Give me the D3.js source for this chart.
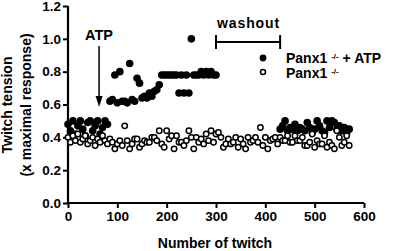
<!DOCTYPE html>
<html><head><meta charset="utf-8">
<script src="https://cdn.jsdelivr.net/npm/d3@7"></script>
<style>body{margin:0;background:#fff}svg{display:block}text{font-family:"Liberation Sans",Arial,sans-serif;font-weight:bold}</style>
</head><body><svg id="c" width="397" height="251"></svg>
<script>
const xTicks=[0,100,200,300,400,500,600];
const yTicks=[0,0.2,0.4,0.6,0.8,1.0,1.2];
// Panx1-/- + ATP (filled): twitch number, value
const atpTwitch=[0,5,10,15,20,25,30,35,40,45,50,55,60,65,70,75,80,
85,90,95,100,105,110,115,120,125,130,135,140,145,150,155,160,165,170,175,180,185,190,195,200,205,210,215,220,225,230,235,240,245,250,255,260,265,270,275,280,285,290,295,300,
430,435,440,445,450,455,460,465,470,475,480,485,490,495,500,505,510,515,520,525,530,535,540,545,550,555,560,565,570];
const atpValue=[0.48,0.44,0.50,0.42,0.47,0.50,0.45,0.41,0.49,0.50,0.44,0.47,0.50,0.42,0.46,0.50,0.48,
0.62,0.63,0.78,0.61,0.80,0.62,0.62,0.61,0.85,0.63,0.62,0.76,0.73,0.64,0.65,0.64,0.67,0.65,0.68,0.69,0.72,0.78,0.78,0.78,0.78,0.78,0.78,0.78,0.67,0.78,0.67,0.78,0.67,1.00,0.78,0.78,0.78,0.80,0.78,0.80,0.78,0.80,0.78,0.78,
0.45,0.47,0.50,0.44,0.46,0.45,0.48,0.44,0.46,0.45,0.44,0.49,0.46,0.43,0.45,0.50,0.47,0.44,0.43,0.50,0.46,0.50,0.49,0.45,0.47,0.44,0.46,0.43,0.45];
// Panx1-/- (open)
const ctrlValue=[0.40,0.37,0.41,0.38,0.42,0.37,0.39,0.41,0.36,0.38,0.40,0.35,0.39,0.37,0.41,0.38,0.36,0.39,0.37,0.33,
0.36,0.38,0.35,0.47,0.38,0.33,0.36,0.39,0.39,0.34,0.36,0.38,0.37,0.37,0.40,0.40,0.38,0.44,0.36,0.34,
0.44,0.39,0.41,0.33,0.41,0.37,0.37,0.35,0.38,0.44,0.40,0.33,0.40,0.37,0.39,0.36,0.42,0.38,0.44,0.37,
0.42,0.43,0.40,0.34,0.36,0.39,0.36,0.37,0.40,0.34,0.39,0.36,0.33,0.40,0.37,0.38,0.40,0.37,0.46,0.35,
0.40,0.33,0.38,0.39,0.40,0.36,0.40,0.38,0.38,0.41,0.37,0.37,0.41,0.38,0.38,0.40,0.35,0.35,0.37,0.42,
0.34,0.38,0.36,0.36,0.41,0.34,0.37,0.35,0.33,0.44,0.40,0.35,0.37,0.41,0.35];
const ctrlTwitch=ctrlValue.map((d,i)=>i*5);
const atpMark=63, washStart=300, washEnd=430;

const svg=d3.select("#c");
const x=d3.scaleLinear().domain([0,600]).range([68,364]);
const y=d3.scaleLinear().domain([0,1.2]).range([203,6]);

const ax=svg.append("g").attr("transform","translate(0,203)")
 .call(d3.axisBottom(x).tickValues(xTicks).tickSize(5).tickPadding(3).tickFormat(d3.format("d")));
const ay=svg.append("g").attr("transform","translate(68,0)")
 .call(d3.axisLeft(y).tickValues(yTicks).tickSize(5).tickPadding(2).tickFormat(d3.format(".1f")));
[ax,ay].forEach(g=>{
 g.attr("font-family",null).attr("font-size",null);
 g.select(".domain").attr("stroke","#000").attr("stroke-width",2.2);
 g.selectAll(".tick line").attr("stroke","#000").attr("stroke-width",2);
 g.selectAll(".tick text").style("font-size","13.5px").style("font-weight","bold")
  .style("font-family","'Liberation Sans', Arial, sans-serif").attr("fill","#000");
});
ax.select(".domain").attr("d","M68,0H364");
ay.select(".domain").attr("d","M0,6V203");

// filled
svg.append("g").selectAll("circle").data(atpTwitch).join("circle")
 .attr("cx",d=>x(d)).attr("cy",(d,i)=>y(atpValue[i])).attr("r",3.8).attr("fill","#000");
// open
svg.append("g").selectAll("circle").data(ctrlTwitch).join("circle")
 .attr("cx",d=>x(d)).attr("cy",(d,i)=>y(ctrlValue[i])).attr("r",2.7)
 .attr("fill","#fff").attr("stroke","#000").attr("stroke-width",1.5);

// ATP arrow
const ax0=x(atpMark);
svg.append("text").attr("x",ax0).attr("y",40).attr("text-anchor","middle").style("font-size","14.5px").text("ATP");
svg.append("line").attr("x1",ax0).attr("x2",ax0).attr("y1",46).attr("y2",98).attr("stroke","#000").attr("stroke-width",1.5);
svg.append("path").attr("d",`M${ax0-3.5},96L${ax0+3.5},96L${ax0},107Z`).attr("fill","#000");

// washout bracket
const w0=x(washStart), w1=x(washEnd);
svg.append("text").attr("x",(w0+w1)/2).attr("y",28).attr("text-anchor","middle").style("font-size","14px")
 .attr("textLength",62).attr("lengthAdjust","spacing").text("washout");
svg.append("path").attr("d",`M${w0},42H${w1}M${w0},35V49M${w1},35V49`).attr("stroke","#000").attr("stroke-width",2).attr("fill","none");

// legend
svg.append("circle").attr("cx",263).attr("cy",58).attr("r",3.4).attr("fill","#000");
svg.append("circle").attr("cx",263).attr("cy",72).attr("r",2.5).attr("fill","#fff").attr("stroke","#000").attr("stroke-width",1.5);
const l1=svg.append("text").attr("x",286).attr("y",63).style("font-size","14px");
l1.append("tspan").text("Panx1 ");
l1.append("tspan").style("font-size","8px").attr("dy",-4).text("-/-");
l1.append("tspan").attr("dy",4).text(" + ATP");
const l2=svg.append("text").attr("x",286).attr("y",77.5).style("font-size","14px");
l2.append("tspan").text("Panx1 ");
l2.append("tspan").style("font-size","8px").attr("dy",-4).text("-/-");

// axis titles
svg.append("text").attr("x",215).attr("y",248).attr("text-anchor","middle").style("font-size","14px").text("Number of twitch");
svg.append("text").attr("transform","translate(12,105) rotate(-90)").attr("text-anchor","middle").style("font-size","14px").text("Twitch tension");
svg.append("text").attr("transform","translate(31,105) rotate(-90)").attr("text-anchor","middle").style("font-size","14px").text("(x maximal response)");
</script></body></html>
